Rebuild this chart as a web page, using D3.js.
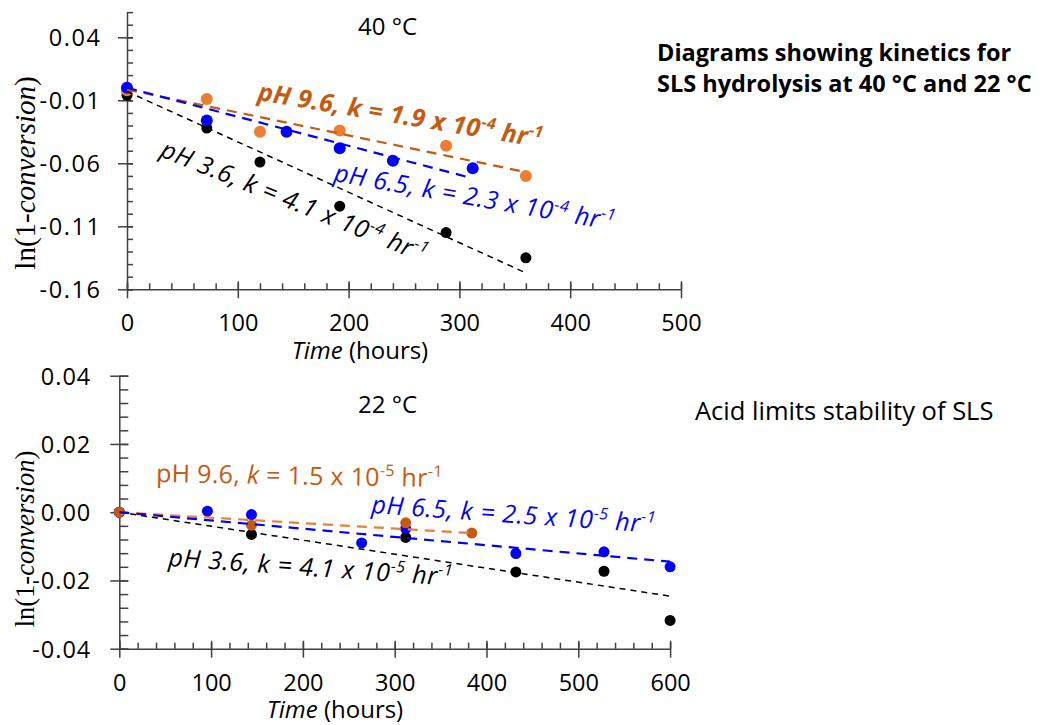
<!DOCTYPE html>
<html>
<head>
<meta charset="utf-8">
<script src="https://cdn.jsdelivr.net/npm/d3@7"></script>
<style>
  body { margin: 0; background: #fff; }
  svg text { font-family: "Open Sans", Lato, sans-serif; }
  .axis path, .axis line { stroke: #404040; stroke-width: 1.5; }
  .axis text { fill: #000; font-size: 23.5px; }
  svg text.ylab, svg text.ylab tspan { font-family: "Liberation Serif", "DejaVu Serif", serif; }
</style>
</head>
<body>
<div class="interactive-wrapper"></div>
<script>

// ---- 40 °C panel (time in hours, ln(1-conversion)) ----
const time40_ph36 = [0, 72, 120, 192, 288, 360];
const ln40_ph36 = [-0.006, -0.032, -0.059, -0.094, -0.115, -0.135];
const time40_ph96 = [0, 72, 120, 192, 288, 360];
const ln40_ph96 = [-0.002, -0.009, -0.035, -0.034, -0.046, -0.070];
const time40_ph65 = [0, 72, 144, 192, 240, 312];
const ln40_ph65 = [0.000, -0.026, -0.035, -0.048, -0.058, -0.064];

// trend line end points
const fit40_ph36 = [[0, -0.003], [360, -0.147]];
const fit40_ph96 = [[0, -0.0015], [360, -0.067]];
const fit40_ph65 = [[0, 0.000], [308, -0.071]];

// ---- 22 °C panel ----
const time22_ph36 = [0, 144, 312, 432, 528, 600];
const ln22_ph36 = [0, -0.0065, -0.0074, -0.0175, -0.0173, -0.0317];
const time22_ph65 = [0, 96, 144, 264, 312, 432, 528, 600];
const ln22_ph65 = [0, 0.0003, -0.0007, -0.0090, -0.0048, -0.0121, -0.0116, -0.0160];
const time22_ph96 = [0, 144, 312, 384];
const ln22_ph96 = [0, -0.0038, -0.0031, -0.0061];

const fit22_ph36 = [[0, 0], [600, -0.0246]];
const fit22_ph96 = [[0, 0], [388, -0.0062]];
const fit22_ph65 = [[0, 0], [600, -0.0145]];

// ticks
const xTicks40 = [0, 100, 200, 300, 400, 500];
const yTicks40 = [-0.16, -0.11, -0.06, -0.01, 0.04];
const xTicks22 = [0, 100, 200, 300, 400, 500, 600];
const yTicks22 = [-0.04, -0.02, 0.00, 0.02, 0.04];

// labels
const lab40_ph96 = [["pH 9.6, "], ["k", "i"], [" = 1.9 x 10"], ["-4", "s"], [" hr"], ["-1", "s"]];
const lab40_ph65 = [["pH 6.5, "], ["k", "i"], [" = 2.3 x 10"], ["-4", "s"], [" hr"], ["-1", "s"]];
const lab40_ph36 = [["pH 3.6, "], ["k", "i"], [" = 4.1 x 10"], ["-4", "s"], [" hr"], ["-1", "s"]];
const lab22_ph96 = [["pH 9.6, "], ["k", "i"], [" = 1.5 x 10"], ["-5", "s"], [" hr"], ["-1", "s"]];
const lab22_ph65 = [["pH 6.5, "], ["k", "i"], [" = 2.5 x 10"], ["-5", "s"], [" hr"], ["-1", "s"]];
const lab22_ph36 = [["pH 3.6, "], ["k", "i"], [" = 4.1 x 10"], ["-5", "s"], [" hr"], ["-1", "s"]];

const orange = "#ED7D31";
const orangeDark = "#C55A11";
const blue = "#0000FF";

let svg = d3.select(".interactive-wrapper").append("svg")
  .attr("width", 1042)
  .attr("height", 725);

const zip = (xs, ys) => xs.map((x, i) => ({t: x, v: ys[i]}));

function panel(o) {
  let g = svg.append("g");

  let xScale = d3.scaleLinear().domain(o.xDomain).range(o.xRange);
  let yScale = d3.scaleLinear().domain(o.yDomain).range(o.yRange);

  // minor ticks (inside only)
  g.append("g")
    .attr("class", "axis")
    .attr("transform", "translate(" + o.xRange[0] + ",0)")
    .call(d3.axisRight(yScale).tickValues(o.yMinor).tickSize(o.minorY).tickFormat(""))
    .select(".domain").remove();
  g.append("g")
    .attr("class", "axis")
    .attr("transform", "translate(0," + o.yRange[0] + ")")
    .call(d3.axisTop(xScale).tickValues(o.xMinor).tickSize(6).tickFormat(""))
    .select(".domain").remove();

  // major y axis
  let yaxis = g.append("g")
    .attr("class", "axis")
    .attr("transform", "translate(" + o.xRange[0] + ",0)")
    .call(d3.axisLeft(yScale).tickValues(o.yTicks).tickSizeInner(9).tickSizeOuter(0)
      .tickFormat(d => d.toFixed(2)));
  yaxis.selectAll(".tick line").attr("x1", o.majorIn);
  yaxis.selectAll("text")
    .attr("x", -o.yLabelGap + o.ySpacing)
    .attr("dy", "0.36em")
    .style("letter-spacing", o.ySpacing + "px");

  // major x axis
  let xaxis = g.append("g")
    .attr("class", "axis")
    .attr("transform", "translate(0," + o.yRange[0] + ")")
    .call(d3.axisBottom(xScale).tickValues(o.xTicks).tickSizeInner(9).tickSizeOuter(0));
  xaxis.selectAll(".tick line").attr("y1", -8);
  xaxis.selectAll("text").attr("y", o.xLabelGap).attr("dy", 0);

  // axis titles
  let yt = g.append("text")
    .attr("class", "ylab")
    .attr("transform", "translate(" + o.yTitle[0] + "," + o.yTitle[1] + ") rotate(-90)")
    .attr("text-anchor", "middle")
    .style("font-size", o.yTitleFont + "px");
  yt.append("tspan").text("ln(1-");
  yt.append("tspan").style("font-style", "italic").text("conversion");
  yt.append("tspan").text(")");

  let xt = g.append("text")
    .attr("x", o.xTitle[0])
    .attr("y", o.xTitle[1])
    .attr("text-anchor", "middle")
    .style("font-size", "24px");
  xt.append("tspan").style("font-style", "italic").text("Time");
  xt.append("tspan").text(" (hours)");

  g.append("text")
    .attr("x", o.title[0])
    .attr("y", o.title[1])
    .style("font-size", "24px")
    .text(o.titleText);

  // dots
  o.series.forEach(s => {
    g.selectAll(null)
      .data(zip(s.t, s.v))
      .enter().append("circle")
      .attr("cx", d => xScale(d.t))
      .attr("cy", d => yScale(d.v))
      .attr("r", s.r)
      .attr("fill", s.dot);
  });

  // dashed trend lines
  let line = d3.line().x(d => xScale(d[0])).y(d => yScale(d[1]));
  o.fits.forEach(f => {
    g.append("path")
      .datum(f.pts)
      .attr("d", line)
      .attr("fill", "none")
      .attr("stroke", f.color)
      .attr("stroke-width", f.w)
      .attr("stroke-dasharray", f.dash);
  });

  // rotated annotations
  o.labels.forEach(l => {
    let txt = g.append("text")
      .attr("transform", "translate(" + l.x + "," + l.y + ") rotate(" + l.a + ")")
      .attr("fill", l.color)
      .style("font-size", l.size + "px")
      .style("letter-spacing", l.ls + "px")
      .style("font-weight", l.bold ? "bold" : "normal")
      .style("font-style", l.italic ? "italic" : "normal");
    let raised = false;
    l.parts.forEach(p => {
      let ts = txt.append("tspan").text(p[0]);
      if (p[1] === "i") ts.style("font-style", "italic");
      if (p[1] === "s") {
        ts.style("font-size", Math.round(l.size * 0.62) + "px").attr("dy", -10);
        raised = true;
      } else if (raised) {
        ts.attr("dy", 10);
        raised = false;
      }
    });
  });
}

panel({
  xDomain: [0, 500], xRange: [127, 681],
  yDomain: [-0.16, 0.06], yRange: [289.3, 12.1],
  xTicks: xTicks40, yTicks: yTicks40,
  xMinor: d3.range(0, 501, 20), yMinor: d3.range(-16, 7, 1).map(d => d / 100),
  minorY: 6, majorIn: 6,
  yLabelGap: 27, ySpacing: 1.6, xLabelGap: 42,
  yTitle: [35, 173], yTitleFont: 29,
  xTitle: [360, 359],
  title: [358, 35], titleText: "40 °C",
  series: [
    {t: time40_ph36, v: ln40_ph36, dot: "#000", r: 5.5},
    {t: time40_ph96, v: ln40_ph96, dot: orange, r: 6},
    {t: time40_ph65, v: ln40_ph65, dot: blue, r: 6}
  ],
  fits: [
    {pts: fit40_ph36, color: "#000", w: 1.5, dash: "6,5"},
    {pts: fit40_ph96, color: orangeDark, w: 2.2, dash: "10,7"},
    {pts: fit40_ph65, color: blue, w: 2.2, dash: "10,7"}
  ],
  labels: [
    {parts: lab40_ph96, x: 257, y: 100, a: 9.5, color: orangeDark, size: 25, ls: 0.4, bold: true, italic: true},
    {parts: lab40_ph65, x: 333, y: 181, a: 10, color: blue, size: 25, ls: 0.6, italic: true},
    {parts: lab40_ph36, x: 159, y: 156, a: 22, color: "#000", size: 25, ls: 0.6, italic: true}
  ]
});

panel({
  xDomain: [0, 600], xRange: [119.3, 670.1],
  yDomain: [-0.04, 0.04], yRange: [648.7, 375.7],
  xTicks: xTicks22, yTicks: yTicks22,
  xMinor: d3.range(0, 601, 20), yMinor: d3.range(-10, 11, 1).map(d => d * 0.004),
  minorY: 9, majorIn: 9,
  yLabelGap: 29, ySpacing: 1, xLabelGap: 42,
  yTitle: [34, 539], yTitleFont: 26.5,
  xTitle: [335, 718],
  title: [358, 413], titleText: "22 °C",
  series: [
    {t: time22_ph36, v: ln22_ph36, dot: "#000", r: 5.5},
    {t: time22_ph65, v: ln22_ph65, dot: blue, r: 5.5},
    {t: time22_ph96, v: ln22_ph96, dot: orangeDark, r: 5.5}
  ],
  fits: [
    {pts: fit22_ph36, color: "#000", w: 1.5, dash: "6,5"},
    {pts: fit22_ph96, color: orange, w: 2.2, dash: "10,7"},
    {pts: fit22_ph65, color: blue, w: 2.2, dash: "10,7"}
  ],
  labels: [
    {parts: lab22_ph96, x: 156, y: 482, a: 1, color: orangeDark, size: 25, ls: 0.3},
    {parts: lab22_ph65, x: 371, y: 513, a: 4, color: blue, size: 25, ls: 0.6, italic: true},
    {parts: lab22_ph36, x: 168, y: 566, a: 4, color: "#000", size: 25, ls: 0.6, italic: true}
  ]
});

// side notes
svg.append("text")
  .attr("x", 657).attr("y", 61)
  .style("font-size", "23.5px").style("font-weight", "bold")
  .text("Diagrams showing kinetics for");
svg.append("text")
  .attr("x", 657).attr("y", 92)
  .style("font-size", "23.5px").style("font-weight", "bold")
  .text("SLS hydrolysis at 40 °C and 22 °C");
svg.append("text")
  .attr("x", 695).attr("y", 420)
  .style("font-size", "25.5px")
  .text("Acid limits stability of SLS");

</script>
</body>
</html>
